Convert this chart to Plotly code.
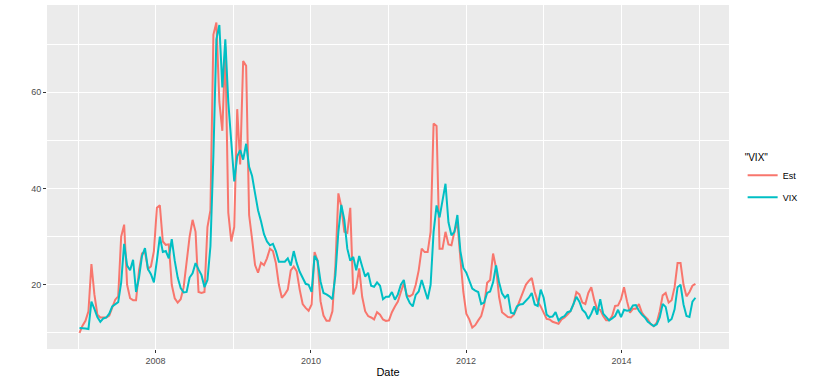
import pandas as pd
import plotly.graph_objects as go

# 两周一个点 (2007-01 ~ 2014-12)
dates = pd.date_range("2007-01-08", periods=208, freq="14D")

est = [
    10.0, 11.5, 12.5, 14.5, 24.3, 18.0, 13.8, 13.2, 13.2, 13.2,
    13.6, 15.2, 16.9, 17.6, 30.0, 32.5, 20.0, 17.2, 16.8, 16.8,
    23.0, 26.5, 26.8, 23.3, 23.8, 27.0, 36.0, 36.5, 29.0, 28.3,
    28.4, 20.0, 17.2, 16.3, 17.0, 19.5, 25.5, 30.0, 33.5, 31.0,
    18.5, 18.3, 18.5, 32.0, 35.5, 72.0, 74.5, 58.0, 52.0, 69.5,
    35.0, 29.0, 32.0, 56.5, 45.0, 66.5, 65.5, 34.5, 29.5, 24.1,
    22.5, 24.6, 24.1, 25.5, 27.5, 27.0, 24.5, 20.0, 17.3, 18.0,
    19.0, 23.0, 23.8, 22.8, 19.0, 16.0, 15.2, 14.6, 15.9, 26.8,
    25.0, 16.6, 13.6, 12.5, 12.5, 14.5, 24.0, 39.0, 36.2, 31.0,
    30.8, 36.0, 18.0, 19.5, 23.4, 17.5, 14.5, 13.5, 13.2, 12.8,
    14.3, 13.8, 12.8, 12.5, 12.6, 14.3, 15.5, 16.5, 18.5, 20.3,
    17.8, 17.6, 18.0, 20.0, 23.0, 27.5, 26.8, 26.8, 31.0, 53.5,
    53.0, 27.5, 27.5, 31.0, 28.4, 28.2, 31.0, 33.0, 25.5, 18.5,
    14.0, 12.8, 11.1, 11.6, 12.6, 13.5, 15.8, 20.4, 21.0, 26.5,
    23.5, 17.5, 14.3, 13.8, 13.3, 13.2, 13.8, 15.2, 16.8, 18.3,
    20.0, 20.8, 21.4, 18.5, 16.5, 15.5, 14.2, 12.9, 12.8, 12.3,
    12.1, 11.9, 12.8, 13.2, 13.8, 14.5, 15.9, 18.5, 18.0, 16.3,
    16.0, 18.3, 19.5, 16.8, 14.9, 14.8, 13.5, 12.6, 12.6, 13.5,
    15.6, 15.7, 17.0, 19.5, 16.6, 14.2, 15.0, 15.0, 16.0, 14.2,
    13.4, 12.8, 11.8, 11.4, 12.1, 14.5, 17.8, 18.3, 16.3, 16.8,
    19.5, 24.5, 24.5, 20.0, 17.6, 18.5, 19.8, 20.2,
]

vix = [
    11.0, 11.0, 10.9, 10.8, 16.5, 15.0, 13.3, 12.3, 13.0, 13.2,
    14.0, 15.5, 16.0, 16.4, 20.5, 28.5, 24.0, 23.0, 25.2, 18.5,
    21.5, 26.0, 27.6, 23.3, 22.2, 20.5, 25.0, 30.0, 26.8, 27.0,
    25.5, 29.5, 25.0, 21.5, 19.3, 18.4, 18.5, 21.5, 22.4, 24.5,
    23.2, 22.0, 19.5, 21.0, 28.0, 47.0, 71.0, 74.0, 61.0, 71.0,
    58.0, 50.0, 41.5, 46.7, 48.0, 46.0, 49.3, 44.5, 42.6, 39.0,
    35.5, 33.2, 30.5, 29.0, 28.2, 28.5, 27.0, 24.8, 24.8, 24.8,
    25.5, 24.0, 27.0, 24.5, 22.7, 21.4, 20.2, 20.0, 18.5, 26.0,
    25.0, 20.7, 18.3, 18.0, 17.6, 17.0, 22.0, 31.0, 36.6, 33.5,
    27.5, 25.0, 25.8, 23.0, 26.0, 23.8, 21.7, 22.5, 19.8, 19.6,
    20.5, 19.8, 17.0, 17.5, 17.5, 18.5, 16.9, 18.0, 20.0, 21.0,
    17.5, 16.2, 15.5, 17.9, 18.6, 21.0, 19.0, 17.0, 20.0, 31.0,
    36.5, 34.0, 37.5, 41.0, 33.0, 30.3, 31.0, 34.5, 27.0, 23.5,
    22.5, 21.0, 19.2, 18.8, 18.5, 16.0, 16.3, 18.3, 18.6, 20.5,
    24.0, 20.5, 18.2, 17.3, 18.0, 14.2, 14.0, 15.5, 15.9, 16.0,
    16.6, 17.3, 18.3, 15.9, 15.6, 19.0, 17.3, 13.8, 13.3, 13.4,
    14.3, 12.6, 13.2, 13.5, 14.3, 14.5, 16.0, 17.5, 16.5, 14.8,
    14.2, 12.9, 14.0, 15.5, 13.8, 17.0, 14.0, 13.4, 12.6, 13.0,
    13.5, 14.8, 13.3, 14.8, 14.6, 14.7, 15.7, 15.8, 14.6, 13.8,
    13.2, 12.3, 11.8, 11.4, 11.8, 13.2, 16.0, 15.4, 12.4, 12.9,
    14.9, 19.5, 20.0, 15.9, 13.5, 13.3, 16.5, 17.3,
]

series = {"Est": (est, "#F8766D"), "VIX": (vix, "#00BFC4")}

fig = go.Figure()
for name, (vals, col) in series.items():
    fig.add_trace(go.Scatter(x=dates, y=vals, mode="lines", name=name,
                             legendgroup=name,
                             line=dict(color=col, width=2)))

fig.update_layout(
    width=830, height=381,
    margin=dict(l=47, r=101, t=5, b=27),
    paper_bgcolor="white",
    plot_bgcolor="#EBEBEB",
    font=dict(family="Liberation Sans, Arial, sans-serif", color="#4D4D4D", size=9),
    legend=dict(
        title=dict(text='"VIX"', font=dict(size=10, color="black")),
        x=1.02, xanchor="left", y=0.585, yanchor="top",
        font=dict(size=9, color="black"),
        tracegroupgap=3,
    ),
    showlegend=True,
)

fig.update_xaxes(
    range=["2006-08-08", "2015-05-22"],
    tickformat="%Y", dtick="M24", tick0="2008-01-01",
    showgrid=True, gridcolor="white", gridwidth=1.1,
    minor=dict(showgrid=True, gridcolor="white", gridwidth=0.5,
               dtick="M12", tick0="2007-01-01"),
    ticks="outside", ticklen=3, tickcolor="#333333",
    zeroline=False, showline=False,
    title=dict(text="Date", font=dict(size=11, color="black"), standoff=3),
)
fig.update_yaxes(
    range=[6.65, 78.15],
    tickvals=[20, 40, 60],
    showgrid=True, gridcolor="white", gridwidth=1.1,
    minor=dict(showgrid=True, gridcolor="white", gridwidth=0.5,
               tickvals=[10, 30, 50, 70]),
    ticks="outside", ticklen=3, tickcolor="#333333",
    zeroline=False, showline=False,
)

# 去掉页面默认的 8px 边距, 隐藏工具栏
fig.write_html("out.html", config={"displayModeBar": False},
               post_script="document.body.style.margin='0';")
